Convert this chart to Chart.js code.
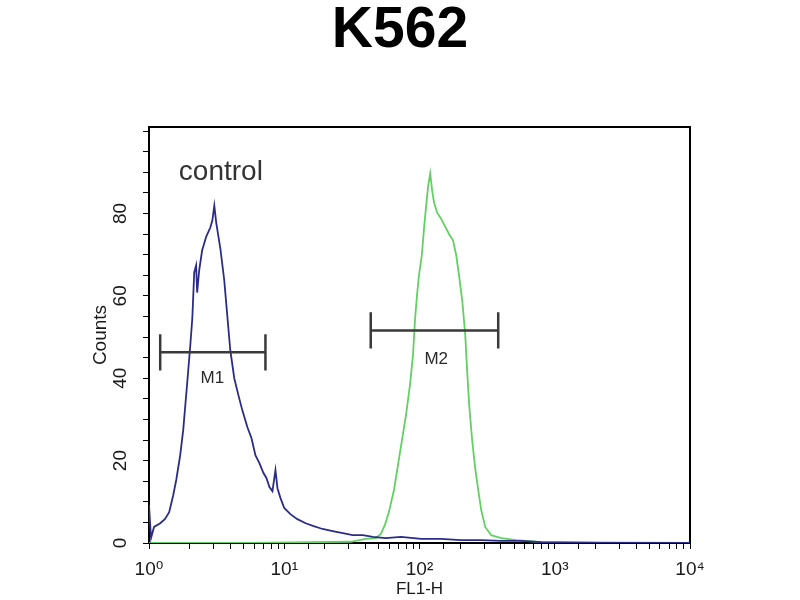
<!DOCTYPE html>
<html>
<head>
<meta charset="utf-8">
<script src="https://cdn.jsdelivr.net/npm/chart.js@4.4.1/dist/chart.umd.min.js"></script>
<style>
    html, body { margin: 0; padding: 0; background: #fff; }
</style>
</head>
<body>
<canvas id="chart" width="800" height="600"></canvas>
<script>
const chartTitle = 'K562';
const xTitle = 'FL1-H';
const yTitle = 'Counts';

// control histogram (blue): FL1-H channel value / counts
const controlX = [1.00, 1.035, 1.09, 1.21, 1.31, 1.41, 1.51, 1.59, 1.70, 1.79, 1.91, 2.02, 2.09, 2.16, 2.23, 2.27, 2.35, 2.47, 2.65, 2.84,
    2.94, 3.04, 3.14, 3.37, 3.60, 3.79, 3.99, 4.27, 4.58, 4.90, 5.34, 5.72, 6.12, 6.55, 7.02, 7.38, 7.77, 8.18, 8.61, 8.91,
    9.38, 10.0, 11.1, 12.5, 14.4, 16.5, 19.2, 22.8, 27.1, 32.1, 38.1, 45.2, 56.4, 72.9, 103, 144, 203, 286, 403, 567,
    798, 2220, 10000];
const controlY = [9.2, 1.2, 3.9, 4.8, 5.8, 7.5, 11.6, 15.3, 21.3, 27.4, 38.3, 48.0, 54.5, 65.7, 67.4, 60.8, 66.2, 71.0, 74.4, 76.6,
    78.3, 81.9, 77.8, 71.5, 63.8, 55.3, 46.8, 40.0, 35.9, 32.2, 28.1, 25.5, 21.3, 19.4, 17.0, 15.8, 13.6, 12.6, 17.7, 13.3,
    10.9, 8.5, 7.0, 5.8, 4.8, 4.1, 3.4, 2.9, 2.4, 1.9, 1.9, 1.5, 1.2, 1.5, 1.0, 1.0, 0.7, 0.7, 0.5, 0.5,
    0.2, 0, 0];

// stained sample histogram (green)
const sampleX = [1.00, 5.62, 31.0, 40.1, 47.6, 51.8, 55.5, 59.4, 64.7, 69.3, 74.2, 79.4, 85.0, 89.5, 92.6, 95.8, 99.1, 104, 108, 112,
    116, 120, 124, 128, 135, 144, 155, 166, 177, 187, 196, 207, 218, 225, 233, 245, 258, 272, 286, 306,
    339, 403, 520, 798, 10000];
const sampleY = [0, 0, 0.3, 1.0, 1.2, 2.2, 4.4, 7.5, 12.8, 18.9, 25.0, 31.0, 38.3, 45.6, 54.1, 60.1, 65.0, 69.8, 76.4, 81.9,
    86.8, 89.7, 85.6, 82.7, 80.2, 78.8, 76.8, 74.9, 73.5, 69.8, 65.0, 58.9, 50.4, 41.9, 33.5, 25.0, 18.2, 12.8, 8.0, 3.9,
    1.9, 1.2, 0.7, 0.2, 0];

const yTickLabels = [0, 20, 40, 60, 80];
const xDecades = [1, 10, 100, 1000, 10000];
const xDecadeLabels = ['10⁰', '10¹', '10²', '10³', '10⁴'];

// gates
const markerNames = ['M1', 'M2'];
const markerFrom = [1.21, 43.6];
const markerTo = [7.26, 382];
const markerLevel = [46.3, 51.6];
const markerTextX = [2.94, 133];
const markerTextY = [40.0, 44.6];

const controlText = 'control';
const controlTextX = 3.4;
const controlTextY = 90;

const FONT = '"Liberation Sans", Arial, "DejaVu Sans", sans-serif';
const CAP = 4.4;

Chart.defaults.font.family = FONT;
Chart.defaults.color = '#1a1a1a';

const toPoints = (xs, ys) => xs.map((x, i) => ({ x, y: ys[i] }));

const markerSets = markerNames.map((name, i) => {
    const a = markerFrom[i];
    const b = markerTo[i];
    const m = markerLevel[i];
    return {
        label: name,
        data: [
            { x: a, y: m - CAP }, { x: a, y: m + CAP }, { x: a, y: m },
            { x: b, y: m }, { x: b, y: m + CAP }, { x: b, y: m - CAP },
        ],
        showLine: true,
        borderColor: '#3a3a3a',
        borderWidth: 2.5,
        pointRadius: 0,
    };
});

const isDecade = (v) => Math.abs(Math.log10(v) - Math.round(Math.log10(v))) < 1e-9;

const textLabels = {
    id: 'textLabels',
    afterDatasetsDraw(chart) {
        const { ctx, scales: { x, y } } = chart;
        ctx.save();
        ctx.textAlign = 'center';
        ctx.textBaseline = 'middle';
        ctx.fillStyle = '#2a2a2a';
        ctx.font = '17px ' + FONT;
        markerNames.forEach((name, i) => {
            ctx.fillText(name, x.getPixelForValue(markerTextX[i]), y.getPixelForValue(markerTextY[i]));
        });
        ctx.fillStyle = '#333';
        ctx.font = '28px ' + FONT;
        ctx.fillText(controlText, x.getPixelForValue(controlTextX), y.getPixelForValue(controlTextY));
        ctx.restore();
    },
};

new Chart(document.getElementById('chart'), {
    type: 'scatter',
    data: {
        datasets: [
            ...markerSets,
            {
                label: 'control',
                data: toPoints(controlX, controlY),
                showLine: true,
                borderColor: '#2b2c88',
                borderWidth: 1.8,
                pointRadius: 0,
            },
            {
                label: 'sample',
                data: toPoints(sampleX, sampleY),
                showLine: true,
                borderColor: '#62d062',
                borderWidth: 1.8,
                pointRadius: 0,
            },
        ],
    },
    options: {
        responsive: false,
        animation: false,
        devicePixelRatio: 1,
        layout: { padding: 0 },
        plugins: {
            legend: { display: false },
            tooltip: { enabled: false },
            title: {
                display: true,
                text: chartTitle,
                color: '#000',
                font: { size: 57, weight: 'bold', lineHeight: 1.1 },
                padding: { top: 0, bottom: 64.3 },
            },
        },
        scales: {
            x: {
                type: 'logarithmic',
                position: 'bottom',
                min: 1,
                max: 10000,
                border: { display: true, color: '#000', width: 2 },
                grid: { drawOnChartArea: false, drawTicks: true, tickLength: 6, color: '#000' },
                ticks: {
                    autoSkip: false,
                    maxRotation: 0,
                    minRotation: 0,
                    padding: 9,
                    font: { size: 19 },
                    callback: (v) => (isDecade(v) ? xDecadeLabels[xDecades.indexOf(Math.round(v))] : ''),
                },
                title: { display: true, text: xTitle, font: { size: 17 }, padding: { top: 0, bottom: 0 } },
                afterFit: (s) => { s.height = 57; },
            },
            x2: {
                type: 'logarithmic',
                position: 'top',
                min: 1,
                max: 10000,
                grid: { display: false },
                ticks: { display: false },
                border: { display: true, color: '#000', width: 2 },
                afterFit: (s) => { s.height = 0; },
            },
            y: {
                min: 0,
                max: 101,
                border: { display: true, color: '#000', width: 2 },
                grid: { drawOnChartArea: false, drawTicks: true, tickLength: 6, color: '#000' },
                ticks: {
                    stepSize: 5,
                    includeBounds: false,
                    autoSkip: false,
                    minRotation: 90,
                    maxRotation: 90,
                    crossAlign: 'center',
                    padding: 12,
                    font: { size: 19 },
                    callback: (v) => (yTickLabels.includes(v) ? String(v) : ''),
                },
                title: { display: true, text: yTitle, font: { size: 19 }, padding: { top: 89, bottom: 0 } },
                afterFit: (s) => { s.width = 149; },
            },
            y2: {
                position: 'right',
                min: 0,
                max: 101,
                grid: { display: false },
                ticks: { display: false },
                border: { display: true, color: '#000', width: 2 },
                afterFit: (s) => { s.width = 110; },
            },
        },
    },
    plugins: [textLabels],
});
</script>
</body>
</html>
